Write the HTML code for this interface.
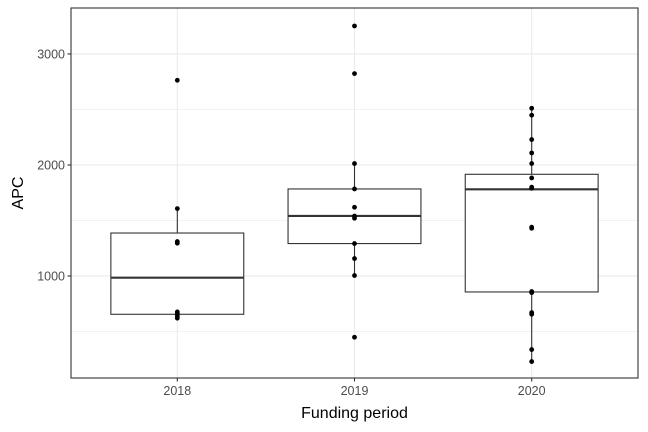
<!DOCTYPE html>
<html><head><meta charset="utf-8"><style>
html,body{margin:0;padding:0;background:#fff;}
svg{display:block;font-family:"Liberation Sans",sans-serif;}
</style></head><body>
<svg id="chart" width="648" height="432"></svg>
<script>
const categories = ["2018","2019","2020"];
const points2018 = [2763,1607,1310,1295,676,660,640,620];
const points2019 = [3252,2823,2013,1784,1619,1540,1520,1292,1157,1004,448];
const points2020 = [2511,2448,2229,2108,2013,1883,1800,1790,1440,1430,860,850,670,655,337,229];
const boxLow = [620,1004,229];
const boxQ1 = [655,1292,856];
const boxMedian = [985,1541,1781];
const boxQ3 = [1387,1784,1916];
const boxHigh = [1607,2013,2511];
const yTicks = [1000,2000,3000];
const yMinor = [500,1500,2500];
const allPoints = [points2018, points2019, points2020];

const NS="http://www.w3.org/2000/svg";
const svg=document.getElementById('chart');
const L=71,R=638,T=8,B=378;
const yMin=81,yMax=3414;
function y(v){return B-(v-yMin)/(yMax-yMin)*(B-T);}
const step=(R-L)/(categories.length+0.2);
function x(i){return L+step*(i+0.6);}
const halfW=step*0.375;
function mk(tag,attrs){const e=document.createElementNS(NS,tag);for(const k in attrs)e.setAttribute(k,attrs[k]);svg.appendChild(e);return e;}

let e=mk('rect',{x:L,y:T,width:R-L,height:B-T,fill:'#fff'});


yMinor.forEach(v=>{const g=mk('line',{x1:L,x2:R,y1:y(v),y2:y(v),stroke:'#ebebeb','stroke-width':0.6});

});
yTicks.forEach(v=>{const g=mk('line',{x1:L,x2:R,y1:y(v),y2:y(v),stroke:'#ebebeb','stroke-width':1.1});

});
categories.forEach((c,i)=>{const g=mk('line',{x1:x(i),x2:x(i),y1:T,y2:B,stroke:'#ebebeb','stroke-width':1.1});

});

categories.forEach((c,i)=>{
  const cx=x(i);
  let w=mk('line',{x1:cx,x2:cx,y1:y(boxHigh[i]),y2:y(boxQ3[i]),stroke:'#333','stroke-width':1.1});
  
  
  w=mk('line',{x1:cx,x2:cx,y1:y(boxQ1[i]),y2:y(boxLow[i]),stroke:'#333','stroke-width':1.1});
  
  
  const b=mk('rect',{x:cx-halfW,y:y(boxQ3[i]),width:halfW*2,height:y(boxQ1[i])-y(boxQ3[i]),fill:'#fff',stroke:'#333','stroke-width':1.1});
  
  
  const m=mk('line',{x1:cx-halfW,x2:cx+halfW,y1:y(boxMedian[i]),y2:y(boxMedian[i]),stroke:'#333','stroke-width':2.1});
  
  
  allPoints[i].forEach(v=>{const p=mk('circle',{cx:cx,cy:y(v),r:2.4,fill:'#000'});
  
  });
  const tk=mk('line',{x1:cx,x2:cx,y1:B,y2:B+3.5,stroke:'#333','stroke-width':1.1});
  
  
  const t=mk('text',{x:cx,y:B+17,'text-anchor':'middle','font-size':12.5,fill:'#4d4d4d'});t.textContent=c;
  
  
});
yTicks.forEach(v=>{
  const tk=mk('line',{x1:L-3.5,x2:L,y1:y(v),y2:y(v),stroke:'#333','stroke-width':1.1});
  
  
  const t=mk('text',{x:L-6,y:y(v)+4.5,'text-anchor':'end','font-size':12.5,fill:'#4d4d4d'});t.textContent=v;
  
  
});
e=mk('rect',{x:L,y:T,width:R-L,height:B-T,fill:'none',stroke:'#333','stroke-width':1.1});


let t=mk('text',{x:(L+R)/2,y:418,'text-anchor':'middle','font-size':16,fill:'#000'});t.textContent='Funding period';


t=mk('text',{x:0,y:0,'text-anchor':'middle','font-size':16,fill:'#000',transform:'translate(23,'+((T+B)/2)+') rotate(-90)'});t.textContent='APC';


</script>
</body></html>
